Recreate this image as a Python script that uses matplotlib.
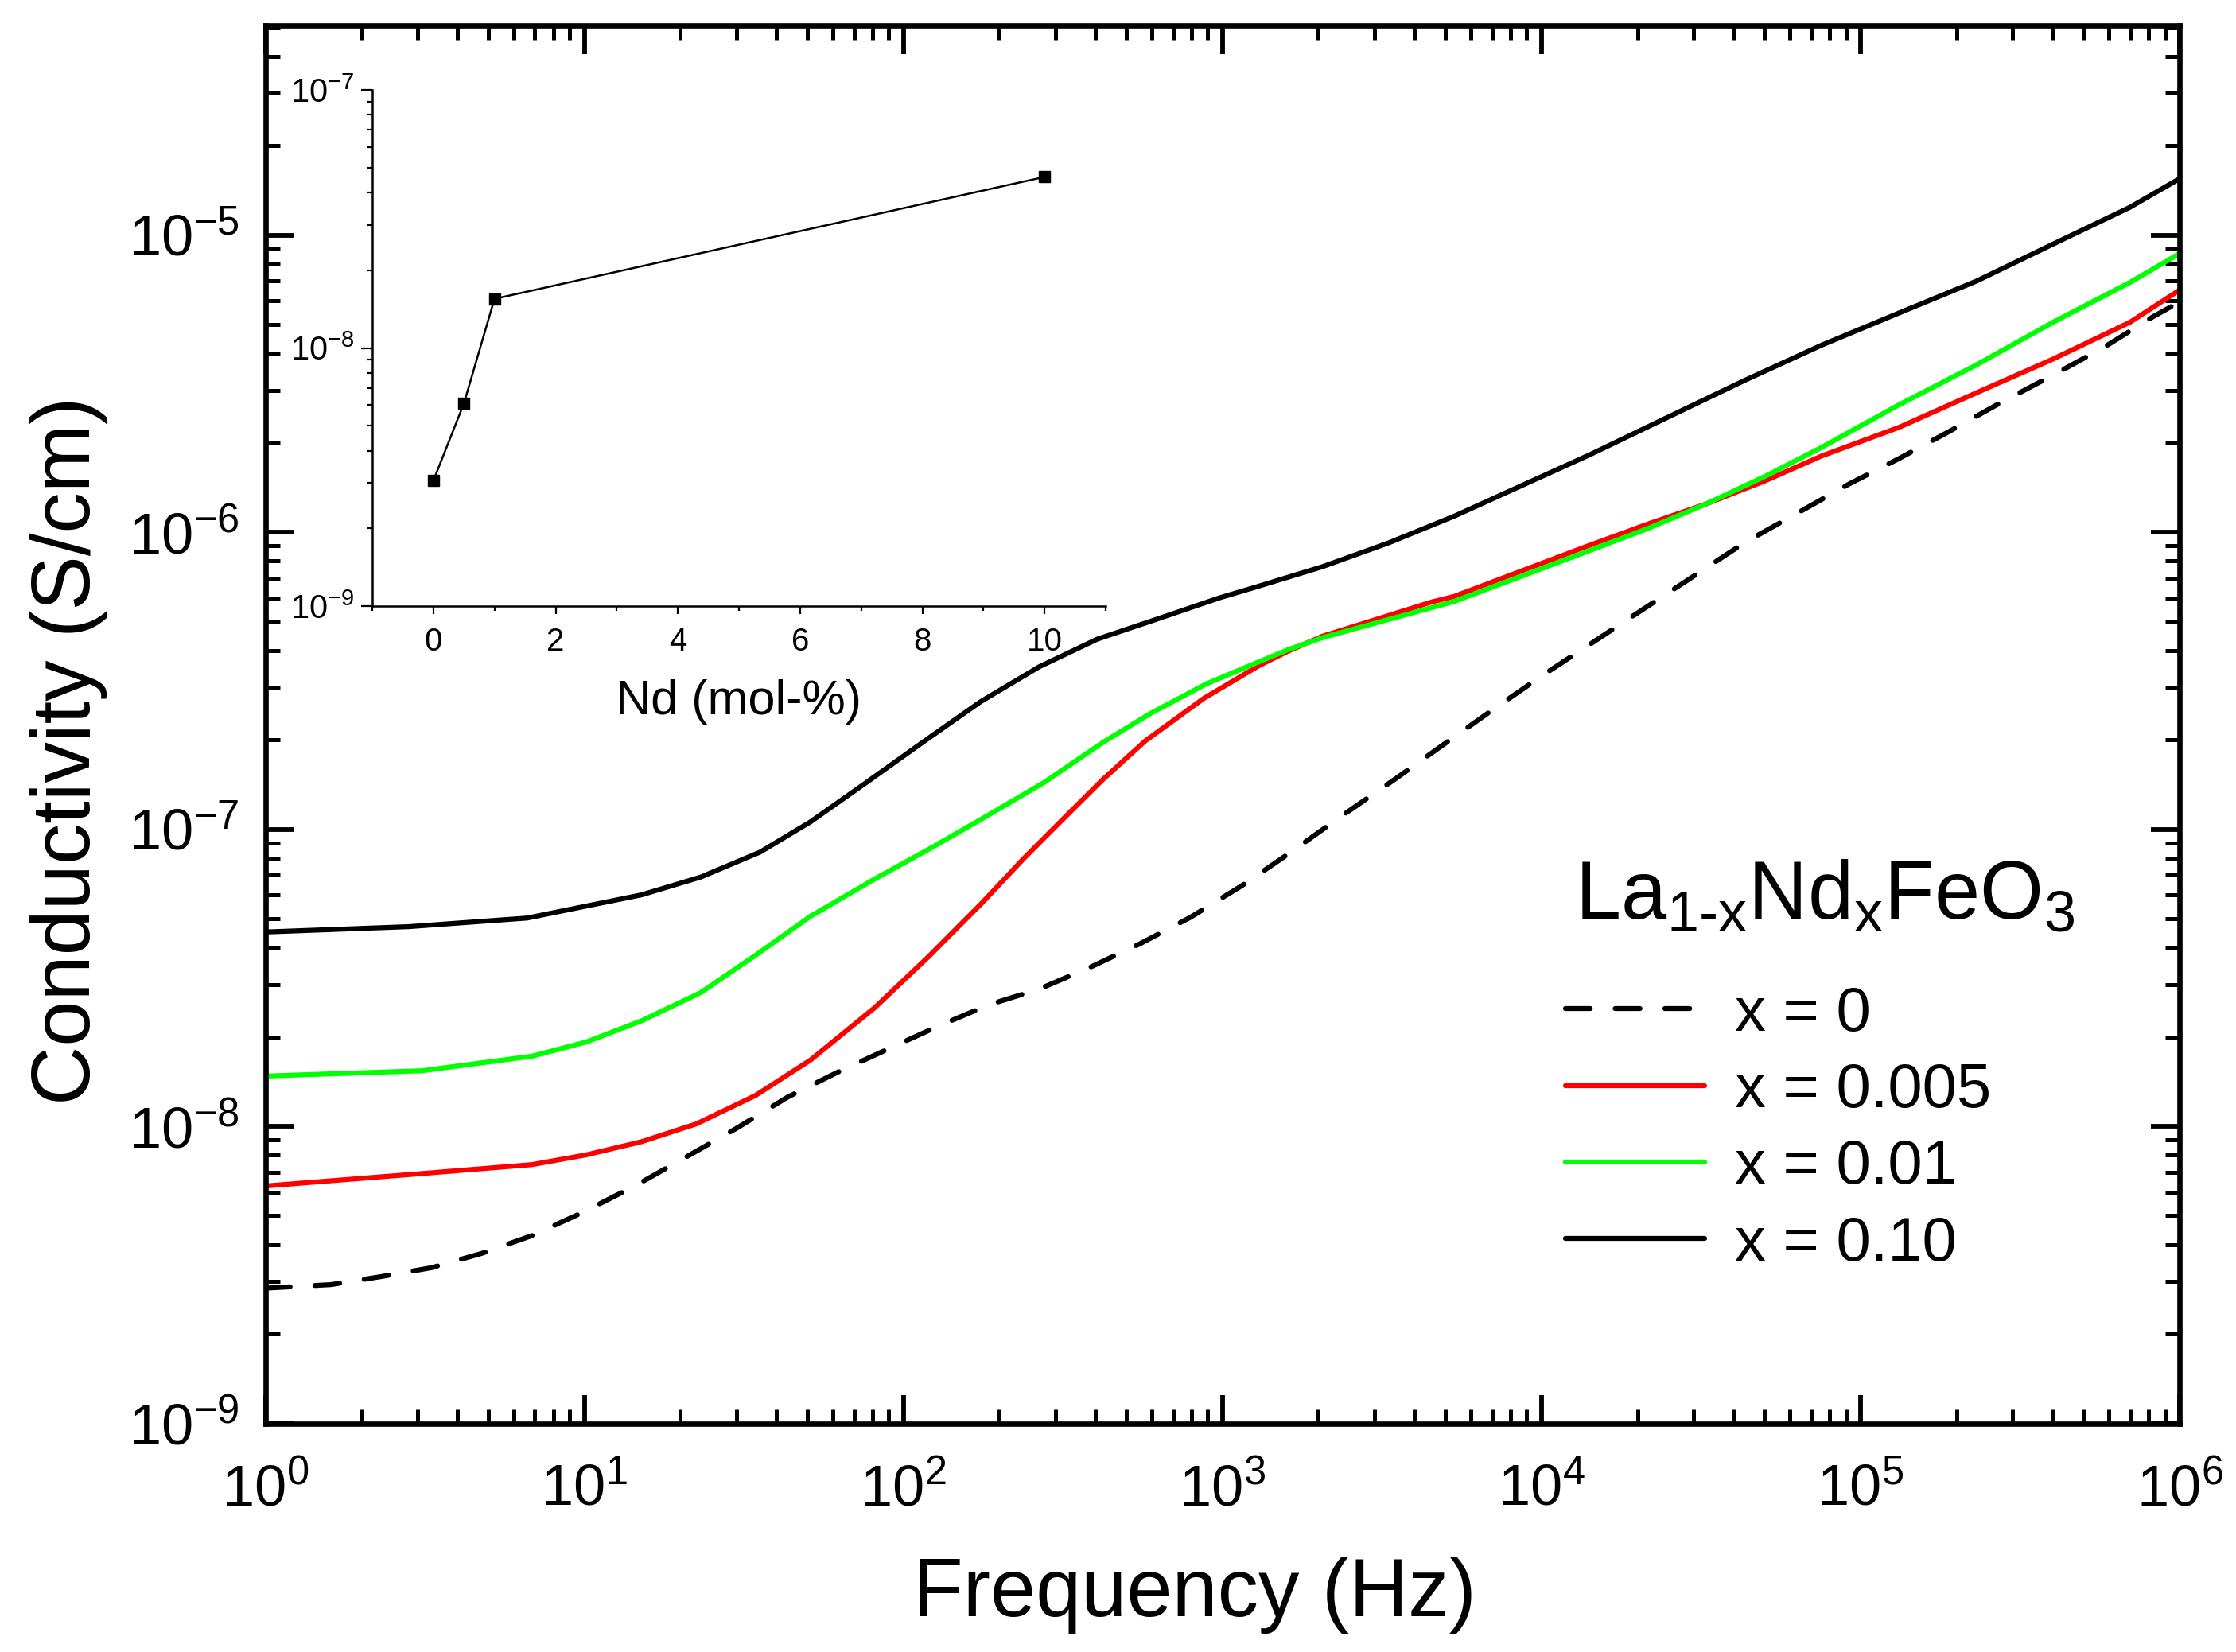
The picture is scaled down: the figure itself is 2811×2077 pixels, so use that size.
import numpy as np
import matplotlib
matplotlib.use("Agg")
import matplotlib.pyplot as plt
from matplotlib.ticker import LogLocator, NullFormatter, MultipleLocator, FixedLocator

plt.rcParams['font.family'] = ['Liberation Sans', 'DejaVu Sans']
plt.rcParams['mathtext.fontset'] = 'custom'
plt.rcParams['mathtext.rm'] = 'Liberation Sans'
plt.rcParams['mathtext.it'] = 'Liberation Sans'
plt.rcParams['mathtext.bf'] = 'Liberation Sans:bold'

# ---- data: log10(frequency / Hz) and log10(conductivity / S cm^-1) ----
logf_x0 = [0.0, 0.206, 0.363, 0.521, 0.678, 0.836, 0.993, 1.158, 1.315, 1.472, 1.637, 1.794, 1.952,
           2.109, 2.268, 2.426, 2.583, 2.741, 2.899, 3.061, 3.207, 3.377, 3.539, 3.697, 3.855,
           4.012, 4.171, 4.328, 4.453, 4.637, 4.807, 4.964, 5.121, 5.278, 5.436, 5.597, 5.761,
           5.918, 6.0]
logs_x0 = [-8.545, -8.533, -8.506, -8.476, -8.428, -8.368, -8.291, -8.201, -8.106, -8.010, -7.902,
           -7.818, -7.740, -7.663, -7.591, -7.538, -7.466, -7.386, -7.297, -7.190, -7.083, -6.953,
           -6.833, -6.712, -6.592, -6.476, -6.364, -6.253, -6.165, -6.035, -5.933, -5.838, -5.752,
           -5.661, -5.566, -5.475, -5.379, -5.274, -5.225]

logf_x005 = [0.0, 0.492, 0.836, 1.007, 1.179, 1.351, 1.537, 1.709, 1.911, 2.077, 2.243, 2.376,
             2.492, 2.625, 2.758, 2.941, 3.115, 3.207, 3.314, 3.656, 3.727, 4.141, 4.335, 4.516,
             4.697, 4.879, 5.121, 5.363, 5.604, 5.845, 6.0]
logs_x005 = [-8.201, -8.159, -8.129, -8.096, -8.052, -7.992, -7.896, -7.777, -7.600, -7.431, -7.252,
             -7.100, -6.975, -6.833, -6.703, -6.560, -6.449, -6.400, -6.350, -6.235, -6.216, -6.048,
             -5.972, -5.905, -5.829, -5.743, -5.647, -5.531, -5.417, -5.293, -5.185]

logf_x01 = [0.0, 0.492, 0.836, 1.007, 1.179, 1.365, 1.537, 1.709, 1.911, 2.077, 2.243, 2.442,
            2.625, 2.775, 2.949, 3.115, 3.207, 3.314, 3.727, 4.141, 4.335, 4.516, 4.697, 4.879,
            5.121, 5.363, 5.604, 5.845, 6.0]
logs_x01 = [-7.831, -7.813, -7.764, -7.716, -7.645, -7.550, -7.424, -7.293, -7.167, -7.069, -6.967,
            -6.842, -6.708, -6.610, -6.511, -6.436, -6.395, -6.355, -6.233, -6.066, -5.987, -5.905,
            -5.814, -5.714, -5.571, -5.437, -5.293, -5.159, -5.062]

logf_x10 = [0.0, 0.45, 0.821, 1.179, 1.365, 1.551, 1.709, 1.868, 2.077, 2.243, 2.426, 2.608, 2.783,
            2.991, 3.107, 3.314, 3.521, 3.727, 4.154, 4.396, 4.637, 4.879, 5.121, 5.363, 5.604,
            5.845, 6.0]
logs_x10 = [-7.346, -7.328, -7.299, -7.221, -7.161, -7.077, -6.975, -6.855, -6.695, -6.570, -6.453,
            -6.360, -6.297, -6.221, -6.184, -6.116, -6.036, -5.946, -5.738, -5.613, -5.489, -5.370,
            -5.262, -5.155, -5.030, -4.906, -4.810]

series_labels = ['x = 0', 'x = 0.005', 'x = 0.01', 'x = 0.10']
legend_title = 'La$_{1\u2010x}$Nd$_x$FeO$_3$'

# inset data
nd_mol = [0, 0.5, 1, 10]
nd_sigma = [3.06e-9, 6.1e-9, 1.55e-8, 4.6e-8]

W, H = 2811, 2077
fig = plt.figure(figsize=(W / 100, H / 100), dpi=100)
ax = fig.add_axes([333.5 / W, 1 - 1789.5 / H, (2740 - 333.5) / W, (1789.5 - 32) / H])

def pw(a):
    return 10 ** np.asarray(a)

lw = 4.5
ax.plot(pw(logf_x0), pw(logs_x0), color='black', lw=lw, ls=(0, (5.0, 5.0)),
        dash_capstyle='round', label=series_labels[0])
ax.plot(pw(logf_x005), pw(logs_x005), color='#ff0000', lw=lw, solid_capstyle='round',
        label=series_labels[1])
ax.plot(pw(logf_x01), pw(logs_x01), color='#00ff00', lw=lw, solid_capstyle='round',
        label=series_labels[2])
ax.plot(pw(logf_x10), pw(logs_x10), color='black', lw=lw, solid_capstyle='round',
        label=series_labels[3])

ax.set_xscale('log')
ax.set_yscale('log')
ax.set_xlim(1, 1e6)
ax.set_ylim(1e-9, 5.08e-5)
ax.xaxis.set_major_locator(LogLocator(base=10, numticks=20))
ax.xaxis.set_minor_locator(LogLocator(base=10, subs=np.arange(2, 10), numticks=50))
ax.yaxis.set_major_locator(FixedLocator([1e-9, 1e-8, 1e-7, 1e-6, 1e-5]))
ax.yaxis.set_minor_locator(LogLocator(base=10, subs=np.arange(2, 10), numticks=50))
ax.xaxis.set_minor_formatter(NullFormatter())
ax.yaxis.set_minor_formatter(NullFormatter())
for s in ax.spines.values():
    s.set_linewidth(4.8)
ax.tick_params(which='both', direction='in', top=True, right=True)
ax.tick_params(which='major', length=26, width=4.2, labelsize=52, pad=24)
ax.tick_params(which='minor', length=13, width=3.6)
ax.tick_params(axis='x', which='major', pad=36)

ax.set_xlabel('Frequency (Hz)', fontsize=74)
ax.xaxis.set_label_coords(0.4854, -0.0955)
ax.set_ylabel('Conductivity (S/cm)', fontsize=74)
ax.yaxis.set_label_coords(-0.0825, 0.481)

# legend title drawn as text, entries as legend
ax.text(0.684, 0.361, legend_title, transform=ax.transAxes, fontsize=74,
        ha='left', va='baseline')
leg = ax.legend(loc='center left', bbox_to_anchor=(0.679, 0.2105), frameon=False,
                fontsize=56, handlelength=2.25, handletextpad=0.5, labelspacing=0.30,
                borderpad=0, borderaxespad=0)

# ---- inset ----
iax = fig.add_axes([468 / W, 1 - 762 / H, (1390 - 468) / W, (762 - 113) / H])
iax.plot(nd_mol, nd_sigma, color='black', lw=1.8, marker='s', markersize=10.5)
iax.set_yscale('log')
iax.set_xlim(-1, 11)
iax.set_ylim(1e-9, 1e-7)
iax.xaxis.set_major_locator(MultipleLocator(2))
iax.xaxis.set_minor_locator(MultipleLocator(1))
iax.yaxis.set_major_locator(FixedLocator([1e-9, 1e-8, 1e-7]))
iax.yaxis.set_minor_locator(LogLocator(base=10, subs=np.arange(2, 10), numticks=50))
iax.yaxis.set_minor_formatter(NullFormatter())
iax.spines['top'].set_visible(False)
iax.spines['right'].set_visible(False)
for s in ['left', 'bottom']:
    iax.spines[s].set_linewidth(1.8)
iax.patch.set_alpha(0)
iax.tick_params(which='both', direction='out', width=1.6)
iax.tick_params(axis='y', which='major', length=10, labelsize=30, pad=6)
iax.tick_params(axis='y', which='minor', length=5)
iax.tick_params(axis='x', which='major', length=7, labelsize=29, pad=12)
iax.tick_params(axis='x', which='minor', length=4)
iax.set_xlabel('Nd (mol-%)', fontsize=44, labelpad=20)

fig.savefig('out.png', dpi=100)
